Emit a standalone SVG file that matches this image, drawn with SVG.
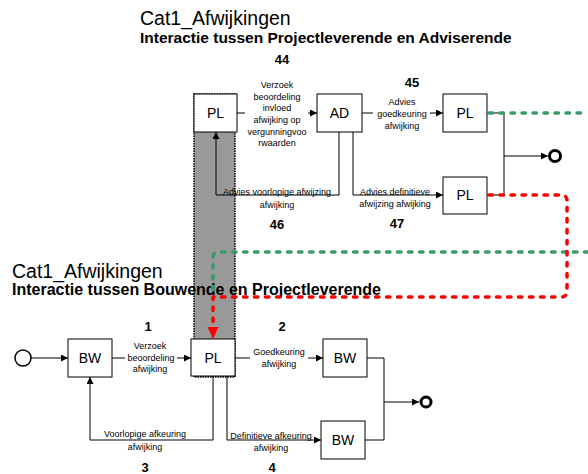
<svg xmlns="http://www.w3.org/2000/svg" width="588" height="474" viewBox="0 0 588 474">
<defs>
<marker id="arr" markerUnits="userSpaceOnUse" markerWidth="8" markerHeight="8" refX="7" refY="3.5" orient="auto">
<path d="M0,0 L7,3.5 L0,7 z" fill="#000"/>
</marker>
<style>
.box{fill:#fff;stroke:#000;stroke-width:1}
.bt{font-family:"Liberation Sans",Arial,sans-serif;font-size:14px;text-anchor:middle;fill:#000}
.lb{font-family:"Liberation Sans",Arial,sans-serif;font-size:9px;text-anchor:middle;fill:#000}
.num{font-family:"Liberation Sans",Arial,sans-serif;font-size:13px;font-weight:bold;text-anchor:middle;fill:#000}
.t1{font-family:"Liberation Sans",Arial,sans-serif;font-size:19.5px;fill:#000}
.t2{font-family:"Liberation Sans",Arial,sans-serif;font-size:15.5px;font-weight:bold;fill:#000}
.ln{fill:none;stroke:#000;stroke-width:1}
.ar{fill:none;stroke:#000;stroke-width:1;marker-end:url(#arr)}
.gd{fill:none;stroke:#3a9a6a;stroke-width:3.5;stroke-dasharray:3.5 7.5;stroke-linecap:round;stroke-linejoin:round}
.rd{fill:none;stroke:#ff0000;stroke-width:3.5;stroke-dasharray:3.5 7.5;stroke-linecap:round;stroke-linejoin:round}
</style>
</defs>
<rect width="588" height="474" fill="#fff"/>
<g id="lane">
<rect x="194" y="94" width="41" height="283" fill="#999" stroke="#000" stroke-width="1.5" stroke-dasharray="1.5 1"/>
</g>
<g id="titles">
<text class="t1" x="140" y="25">Cat1_Afwijkingen</text>
<text class="t2" x="140" y="43">Interactie tussen Projectleverende en Adviserende</text>
<text class="t1" x="12" y="278">Cat1_Afwijkingen</text>
<text class="t2" x="12" y="295" style="font-size:16px">Interactie tussen Bouwende en Projectleverende</text>
<text class="num" x="282" y="64">44</text>
<text class="num" x="412" y="87">45</text>
<text class="num" x="277" y="229">46</text>
<text class="num" x="397" y="228">47</text>
<text class="num" x="148" y="331">1</text>
<text class="num" x="282" y="331">2</text>
<text class="num" x="145" y="472">3</text>
<text class="num" x="272" y="472">4</text>
</g>
<g id="connectors">
<path class="ln" d="M237,113 H245"/>
<path class="ar" d="M308,113 H317"/>
<path class="ln" d="M362,113 H373"/>
<path class="ar" d="M430,113 H443"/>
<path class="ar" d="M339,132 V195 H216 V132"/>
<path class="ar" d="M353,132 V195 H443"/>
<path class="ln" d="M487,113 H504 V195 H487"/>
<path class="ar" d="M504,156 H548"/>
<path class="ar" d="M31,358 H68"/>
<path class="ln" d="M112,358 H125"/>
<path class="ar" d="M177,358 H191"/>
<path class="ln" d="M235,358 H250"/>
<path class="ar" d="M308,358 H323"/>
<path class="ar" d="M213,376 V440 H90 V377"/>
<path class="ar" d="M227,376 V440 H321"/>
<path class="ln" d="M367,358 H384 V440 H365"/>
<path class="ar" d="M384,402 H419"/>
</g>
<g id="labels">
<text class="lb" x="277" y="88">Verzoek</text>
<text class="lb" x="277" y="99.5">beoordeling</text>
<text class="lb" x="277" y="111">invloed</text>
<text class="lb" x="277" y="123">afwijking op</text>
<text class="lb" x="277" y="134.5">vergunningvoo</text>
<text class="lb" x="277" y="146">rwaarden</text>
<text class="lb" x="402" y="105">Advies</text>
<text class="lb" x="402" y="117">goedkeuring</text>
<text class="lb" x="402" y="129">afwijking</text>
<text class="lb" x="277" y="195">Advies voorlopige afwijzing</text>
<text class="lb" x="277" y="208">afwijking</text>
<text class="lb" x="395" y="195">Advies definitieve</text>
<text class="lb" x="395" y="207">afwijzing afwijking</text>
<text class="lb" x="150" y="349">Verzoek</text>
<text class="lb" x="151" y="361">beoordeling</text>
<text class="lb" x="150" y="372">afwijking</text>
<text class="lb" x="279" y="355">Goedkeuring</text>
<text class="lb" x="279" y="367">afwijking</text>
<text class="lb" x="145" y="437">Voorlopige afkeuring</text>
<text class="lb" x="145" y="450">afwijking</text>
<text class="lb" x="271" y="439">Definitieve afkeuring</text>
<text class="lb" x="271" y="451">afwijking</text>
</g>
<g id="node-pl-top"><rect class="box" x="194" y="94" width="43" height="38"/><text class="bt" x="215.5" y="118">PL</text></g>
<g id="node-ad"><rect class="box" x="317" y="94" width="45" height="38"/><text class="bt" x="339.5" y="118">AD</text></g>
<g id="node-pl-45"><rect class="box" x="443" y="94" width="44" height="38"/><text class="bt" x="465" y="118">PL</text></g>
<g id="node-pl-47"><rect class="box" x="443" y="177" width="44" height="37"/><text class="bt" x="465" y="200">PL</text></g>
<g id="node-end-top"><circle cx="555" cy="156" r="5.5" fill="#fff" stroke="#000" stroke-width="3"/></g>
<g id="node-start"><circle cx="23" cy="358" r="8" fill="#fff" stroke="#000" stroke-width="1.5"/></g>
<g id="node-bw1"><rect class="box" x="68" y="339" width="44" height="38"/><text class="bt" x="90" y="363">BW</text></g>
<g id="node-pl-bottom"><rect class="box" x="191" y="339" width="44" height="37"/><text class="bt" x="213" y="363">PL</text></g>
<g id="node-bw2"><rect class="box" x="323" y="339" width="44" height="38"/><text class="bt" x="345" y="363">BW</text></g>
<g id="node-bw3"><rect class="box" x="321" y="421" width="44" height="38"/><text class="bt" x="343" y="445">BW</text></g>
<g id="node-end-bottom"><circle cx="426" cy="402" r="5" fill="#fff" stroke="#000" stroke-width="3"/></g>
<g id="dashed-connectors">
<path class="gd" d="M489,113 H588"/>
<path class="gd" d="M588,252 H219 Q213,252 213,258 V297"/>
<path class="rd" d="M489,195 H561 Q567,195 567,201 V291 Q567,297 561,297 H213 V328"/>
<polygon points="207.5,327 218.5,327 213,339" fill="#ff0000"/>
</g>
</svg>
